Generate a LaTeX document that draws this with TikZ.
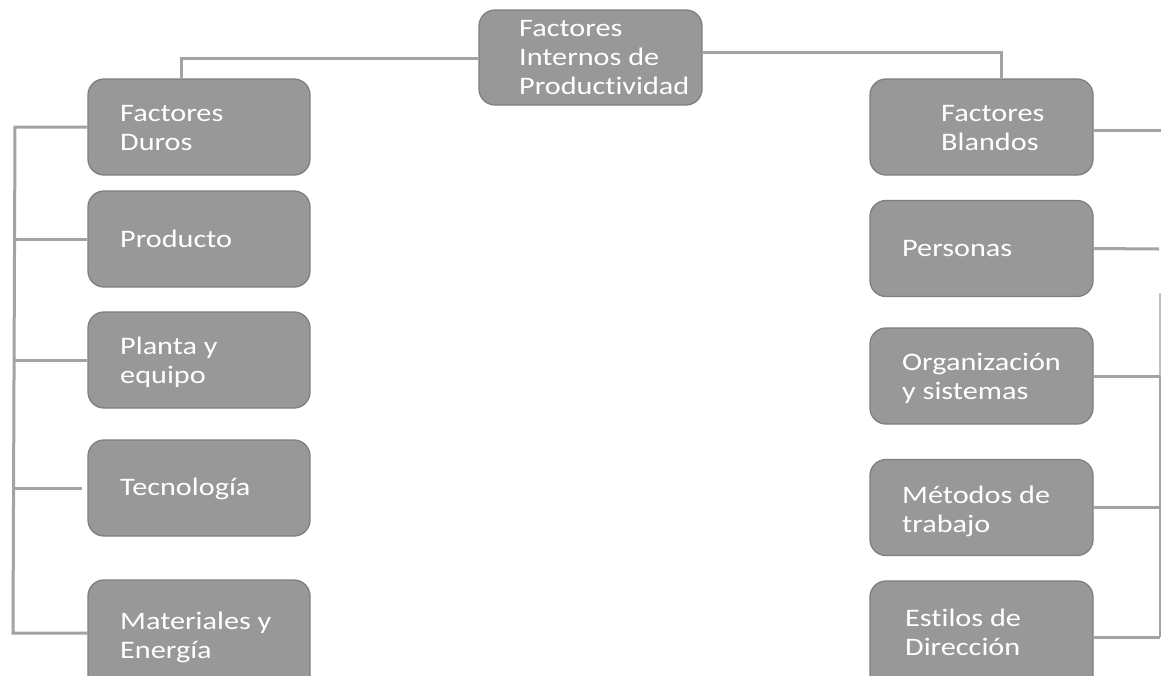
\documentclass[tikz,border=0pt]{standalone}
\usepackage{fontspec}
\setmainfont{Carlito}[FakeStretch=1.2, Ligatures={NoCommon}]
\definecolor{boxfill}{HTML}{989898}
\definecolor{boxline}{HTML}{7F7F7F}
\definecolor{conncol}{HTML}{A3A3A3}
\tikzset{
  box/.style={draw=boxline, fill=boxfill, line width=1.3pt, rounded corners=16pt,
    minimum width=222pt, minimum height=96pt, inner sep=0pt},
  txt/.style={anchor=west, align=left, text=white, inner sep=0pt,
    font=\fontsize{25.2pt}{29pt}\selectfont},
  conn/.style={draw=conncol, line width=3pt},
  thinconn/.style={draw=conncol!70, line width=1.2pt}
}
\begin{document}
\begin{tikzpicture}[x=1pt, y=-1pt]
\clip (0,0) rectangle (1161,675);
\fill[white] (0,0) rectangle (1161,675);
% boxes
\node[box, minimum width=223pt, minimum height=95pt] (top) at (590.5,57.5) {};
\node[box] (duros) at (199,127) {};
\node[box] (prod) at (199,239) {};
\node[box] (planta) at (199,360) {};
\node[box] (tec) at (199,488) {};
\node[box, minimum height=130pt] (mat) at (199,645) {};
\node[box, minimum width=223pt] (blandos) at (981.5,127) {};
\node[box, minimum width=223pt] (pers) at (981.5,248.5) {};
\node[box, minimum width=223pt] (org) at (981.5,376) {};
\node[box, minimum width=223pt] (met) at (981.5,507.5) {};
\node[box, minimum width=223pt, minimum height=130pt] (est) at (981.5,646) {};
% texts
\node[txt] (ttop) at (519,58) {Factores\\Internos de\\Productividad};
\node[txt] (tduros) at (120,128) {Factores\\Duros};
\node[txt] (tprod) at (120,239) {Producto};
\node[txt] (tplanta) at (120,362) {Planta y\\equipo};
\node[txt] (ttec) at (120,489) {Tecnología};
\node[txt] (tmat) at (120,637) {Materiales y\\Energía};
\node[txt] (tblandos) at (941,128) {Factores\\Blandos};
\node[txt] (tpers) at (902,249) {Personas};
\node[txt] (torg) at (902,378) {Organización\\y sistemas};
\node[txt] (tmet) at (902,511) {Métodos de\\trabajo};
\node[txt] (test) at (905,632) {Estilos de\\Dirección};
% coordinates
\coordinate (lbusTop) at (15,127);
\coordinate (lbusBot) at (13,633);
\coordinate (topL) at (181,58);
\coordinate (topR) at (1001,52);
\coordinate (rEndA) at (1161,130);
\coordinate (rEndB) at (1159,249);
\coordinate (rbusTop) at (1160,293);
\coordinate (rbusBot) at (1160,637);
% top connectors
\draw[conn] (top.west |- topL) -- (topL) -- (duros.north -| topL);
\draw[conn] (top.east |- topR) -- (topR) -- (blandos.north -| topR);
% left bus
\draw[conn] (duros.west) -- (lbusTop) -- (lbusBot) -- (mat.west |- lbusBot);
\draw[conn] (prod.west) -- (prod.west -| 14,0);
\draw[conn] (planta.west) -- (planta.west -| 14,0);
\draw[conn] (tec.west) ++(-5,0) coordinate (tecEnd) -- (tecEnd -| 14,0);
% right side
\draw[conn] (blandos.east |- rEndA) -- (rEndA);
\draw[conn] (pers.east) -- (rEndB);
\draw[thinconn] (rbusTop) -- (org.east -| rbusTop);
\draw[draw=conncol, line width=2pt] (org.east -| rbusTop) -- (rbusBot);
\draw[conn] (org.east) -- (org.east -| rbusTop);
\draw[conn] (met.east) -- (met.east -| rbusTop);
\draw[conn] (est.east |- rbusBot) -- (rbusBot);
\end{tikzpicture}
\end{document}
